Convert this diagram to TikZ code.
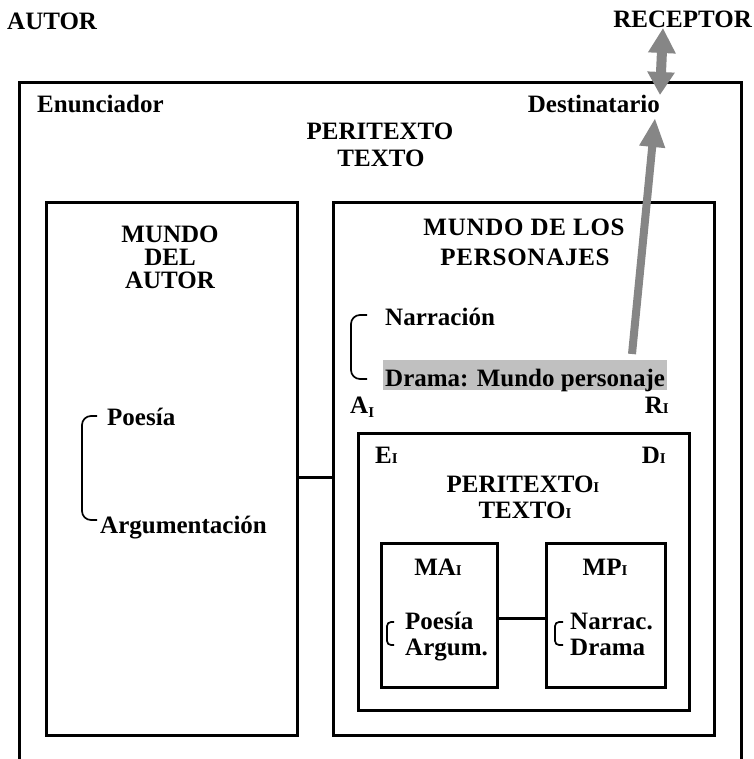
\documentclass[tikz,border=0pt]{standalone}
\usepackage{fontspec}
\setmainfont{Liberation Serif}
\usetikzlibrary{arrows.meta}

\definecolor{arrowgray}{RGB}{134,134,134}
\definecolor{markgray}{RGB}{192,192,192}

% small capital I set on the baseline, and a lowered one
\newcommand\smallI{{\fontsize{15}{15}\selectfont I}}
\newcommand\lowI{\raisebox{-4pt}{\fontsize{15}{15}\selectfont I}}

\begin{document}
\begin{tikzpicture}[x=1pt,y=-1pt,
  txt/.style={font=\fontsize{25}{26}\selectfont\bfseries, inner sep=0pt},
  box/.style={draw, line width=3pt, inner sep=0pt},
  link/.style={line width=3pt},
  brace/.style={line width=1.7pt, rounded corners=7pt},
  bigbrace/.style={line width=1.7pt, rounded corners=9pt},
  garrow/.style={draw=arrowgray, line width=10pt},
]
\useasboundingbox (0,0) rectangle (753,759);

% outer frame (runs off the bottom edge)
\draw[link] (19,762) -- (19,83) -- (741,83) -- (741,762);

% boxes
\node[box, minimum width=251pt, minimum height=532pt] (leftbox)  at (171.5,469) {};
\node[box, minimum width=381pt, minimum height=532pt] (rightbox) at (523.5,469) {};
\node[box, minimum width=331pt, minimum height=277pt] (innerbox) at (523.5,571.5) {};
\node[box, minimum width=116pt, minimum height=144pt] (mabox)    at (439,615) {};
\node[box, minimum width=119pt, minimum height=144pt] (mpbox)    at (605.5,615) {};

% connectors between boxes
\coordinate (j1) at (0,477);
\coordinate (j2) at (0,618);
\draw[link] (leftbox.east |- j1) -- (rightbox.west |- j1);
\draw[link] (mabox.east |- j2) -- (mpbox.west |- j2);

% top labels
\node[txt, anchor=base west] (autor) at (7,30) {AUTOR};
\node[txt, anchor=base east] (receptor) at (752,28) {RECEPTOR};
\node[txt, anchor=base west] (enun) at (37,113) {Enunciador};
\node[txt, anchor=base east] (dest) at (660,113) {Destinatario};
\node[txt, anchor=base] (perit) at (380,140) {PERITEXTO};
\node[txt, anchor=base] (texto) at (381,167) {TEXTO};

% left box
\node[txt, anchor=base] (ma1) at (170,242) {MUNDO};
\node[txt, anchor=base] (ma2) at (170,265) {DEL};
\node[txt, anchor=base] (ma3) at (170,288) {AUTOR};
\node[txt, anchor=base west] (poesia) at (107,425) {Poesía};
\node[txt, anchor=base west] (argu) at (100,533) {Argumentación};
\draw[bigbrace] (97,416) -- (82,416) -- (82,520) -- (97,520);

% right box
\node[txt, anchor=base] (mp1) at (524,235) {\addfontfeature{LetterSpace=3}MUNDO DE LOS};
\node[txt, anchor=base] (mp2) at (525,265) {\addfontfeature{LetterSpace=3}PERSONAJES};
\node[txt, anchor=base west] (narr) at (385,325) {Narración};
\node[txt, anchor=base west, fill=markgray, inner xsep=2pt,
      text height=26pt, text depth=4pt] (drama) at (383,386) {Drama: Mundo personaje};
\draw[bigbrace] (367,315) -- (351,315) -- (351,379) -- (367,379);
\node[txt, anchor=base west] (ai) at (350,413) {A\lowI};
\node[txt, anchor=base east] (ri) at (669,413) {R\smallI};

% inner box
\node[txt, anchor=base west] (ei) at (375,463) {E\smallI};
\node[txt, anchor=base east] (di) at (666,463) {D\smallI};
\node[txt, anchor=base] (periti) at (523,492) {PERITEXTO\smallI};
\node[txt, anchor=base] (textoi) at (525,518) {TEXTO\smallI};

% small boxes
\node[txt, anchor=base] (mai) at (438,575) {MA\smallI};
\node[txt, anchor=base west] (poe2) at (405,629) {Poesía};
\node[txt, anchor=base west] (arg2) at (405,655) {Argum.};
\draw[brace, rounded corners=4pt] (394,622) -- (387,622) -- (387,645) -- (394,645);

\node[txt, anchor=base] (mpi) at (605,575) {MP\smallI};
\node[txt, anchor=base west] (nar2) at (570,629) {Narrac.};
\node[txt, anchor=base west] (dra2) at (570,655) {Drama};
\draw[brace, rounded corners=4pt] (563,622) -- (555,622) -- (555,645) -- (563,645);

% gray arrows
\coordinate (up1) at (663,28);
\coordinate (up2) at (660,95);
\draw[garrow, {Triangle[width=26pt,length=25pt]}-{Triangle[width=26pt,length=23pt]}] (up1) -- (up2);
\coordinate (ar1) at (632,354);
\coordinate (ar2) at (655,118);
\draw[draw=arrowgray, line width=8pt, -{Triangle[width=24pt,length=29pt]}] (ar1) -- (ar2);
\end{tikzpicture}
\end{document}
